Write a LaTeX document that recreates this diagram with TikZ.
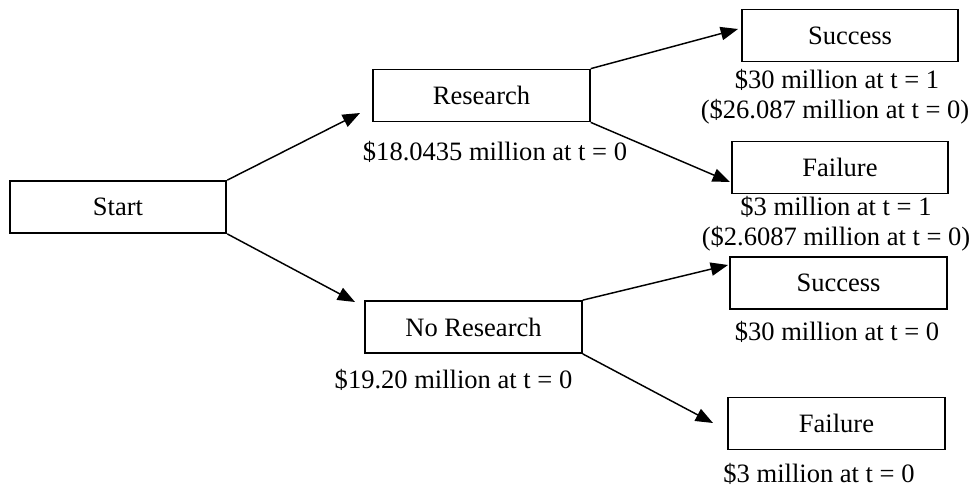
\documentclass[tikz,border=0pt]{standalone}
\usepackage{fontspec}
\setmainfont{Liberation Serif}
\usetikzlibrary{arrows.meta}
\begin{document}
\begin{tikzpicture}[x=0.75pt,y=-0.75pt,
  box/.style={draw,line width=1.3pt,minimum width=162.5pt,minimum height=39pt,inner sep=0pt,font=\fontsize{19.9}{24}\selectfont},
  lab/.style={inner sep=0pt,anchor=base,font=\fontsize{19.9}{24}\selectfont},
  conn/.style={line width=1.1pt,-{Triangle[length=13pt,width=10pt]}}]
\useasboundingbox (0,0) rectangle (974,486);
% boxes
\node[box] (start) at (118,207) {Start};
\node[box] (res) at (481.5,95.5) {Research};
\node[box] (nores) at (473.5,327) {No Research};
\node[box] (s1) at (850,35.5) {Success};
\node[box] (f1) at (840,167.5) {Failure};
\node[box] (s2) at (838.5,283) {Success};
\node[box] (f2) at (836.5,423.5) {Failure};
% labels
\node[lab] (lres) at (495,160) {\$18.0435 million at t = 0};
\node[lab] (lnores) at (453.5,388) {\$19.20 million at t = 0};
\node[lab] (ls1a) at (837,88) {\$30 million at t = 1};
\node[lab] (ls1b) at (835,118) {(\$26.087 million at t = 0)};
\node[lab] (lf1a) at (836,215) {\$3 million at t = 1};
\node[lab] (lf1b) at (836,245) {(\$2.6087 million at t = 0)};
\node[lab] (ls2) at (837,340) {\$30 million at t = 0};
\node[lab] (lf2) at (819,482) {\$3 million at t = 0};
% arrow tips
\coordinate (tres) at (360,113);
\coordinate (tnores) at (355,302);
\coordinate (ts1) at (738,29);
\coordinate (tf1) at (730,182);
\coordinate (ts2) at (728,265);
\coordinate (tf2) at (713,423);
% connectors
\draw[conn] (start.north east) -- (tres);
\draw[conn] (start.south east) -- (tnores);
\draw[conn] (res.north east) -- (ts1);
\draw[conn] (res.south east) -- (tf1);
\draw[conn] (nores.north east) -- (ts2);
\draw[conn] (nores.south east) -- (tf2);
\end{tikzpicture}
\end{document}
